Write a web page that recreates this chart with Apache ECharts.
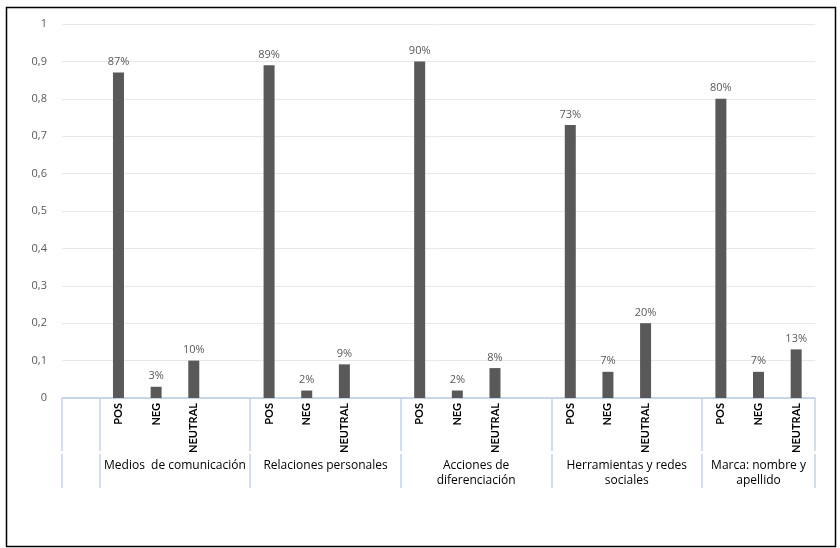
<!DOCTYPE html>
<html>
<head>
<meta charset="utf-8">
<script src="https://cdn.jsdelivr.net/npm/echarts@6/dist/echarts.min.js"></script>
<style>html,body{margin:0;padding:0;background:#fff}#c{width:840px;height:548px}</style>
</head>
<body>
<div id="c"></div>
<script>
// ---- data ----
const groups = ['Medios  de comunicación', 'Relaciones personales', 'Acciones de\ndiferenciación', 'Herramientas y redes\nsociales', 'Marca: nombre y\napellido'];
const subcats = ['POS', 'NEG', 'NEUTRAL'];
const medios = [0.87, 0.03, 0.10];
const relaciones = [0.89, 0.02, 0.09];
const acciones = [0.90, 0.02, 0.08];
const herramientas = [0.73, 0.07, 0.20];
const marca = [0.80, 0.07, 0.13];
const yTicks = [0, 0.1, 0.2, 0.3, 0.4, 0.5, 0.6, 0.7, 0.8, 0.9, 1];

// ---- build flat category list (leading empty slot, empty spacer after each group except last) ----
const groupValues = [medios, relaciones, acciones, herramientas, marca];
const categories = [''];
const values = [null];
const boundaries = [0];
const groupRanges = [];
groupValues.forEach((vals, gi) => {
  boundaries.push(categories.length);
  const start = categories.length;
  subcats.forEach((s, i) => { categories.push(s); values.push(vals[i]); });
  if (gi < groupValues.length - 1) { categories.push(''); values.push(null); }
  groupRanges.push([start, categories.length - 1]);
});

const FONT = 'Open Sans';
const chart = echarts.init(document.getElementById('c'));
const tickInterval = (idx) => boundaries.indexOf(idx) >= 0;

chart.setOption({
  animation: false,
  grid: { left: 62, right: 25, top: 24, bottom: 150 },
  xAxis: [{
    type: 'category',
    data: categories,
    axisLine: { lineStyle: { color: '#b9cce6', width: 1.5 } },
    axisTick: { show: true, interval: tickInterval, length: 53, lineStyle: { color: '#c3d3ea', width: 1.5 } },
    axisLabel: { interval: 0, rotate: 90, margin: 5, color: '#000', fontFamily: 'Lato', fontSize: 11, fontWeight: 'bold' },
    splitLine: { show: false }
  }, {
    type: 'category',
    data: categories,
    position: 'bottom',
    offset: 56,
    axisLine: { show: false },
    axisTick: { show: true, interval: tickInterval, length: 34, lineStyle: { color: '#c3d3ea', width: 1.5 } },
    axisLabel: { show: false }
  }],
  yAxis: {
    type: 'value',
    min: 0, max: 1, interval: 0.1,
    axisLine: { show: false },
    axisTick: { show: false },
    axisLabel: {
      margin: 15, color: '#595959', fontFamily: FONT, fontSize: 11,
      formatter: (v) => { const t = yTicks.find(x => Math.abs(x - v) < 1e-9); return String(Math.round((t ?? v) * 10) / 10).replace('.', ','); }
    },
    splitLine: { lineStyle: { color: '#e8e8e8', width: 1 } }
  },
  series: [{
    type: 'bar',
    data: values,
    barWidth: 11,
    itemStyle: { color: '#595959' },
    label: {
      show: true, position: 'top', distance: 5,
      color: '#595959', fontFamily: FONT, fontSize: 11,
      formatter: (p) => p.value == null ? '' : Math.round(p.value * 100) + '%'
    }
  }]
});

// group labels centred under each group span, positions from the axis
const band = chart.convertToPixel({ xAxisIndex: 0 }, 1) - chart.convertToPixel({ xAxisIndex: 0 }, 0);
const gfx = [{
  type: 'rect', left: 4, top: 5, silent: true,
  shape: { width: 829, height: 539 },
  style: { fill: 'none', stroke: '#000', lineWidth: 1.5 }
}];
groupRanges.forEach((r, gi) => {
  const x0 = chart.convertToPixel({ xAxisIndex: 0 }, r[0]) - band / 2;
  const x1 = chart.convertToPixel({ xAxisIndex: 0 }, r[1]) + band / 2;
  gfx.push({
    type: 'text', silent: true,
    x: (x0 + x1) / 2, y: 458,
    style: { text: groups[gi], fill: '#000', font: '12px ' + FONT, textAlign: 'center', textVerticalAlign: 'top', lineHeight: 15 }
  });
});
chart.setOption({ graphic: gfx });
</script>
</body>
</html>
